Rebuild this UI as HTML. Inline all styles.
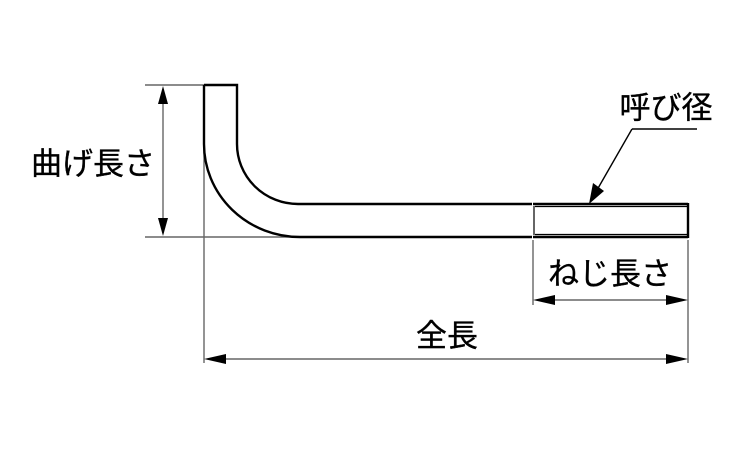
<!DOCTYPE html>
<html><head><meta charset="utf-8"><style>
html,body{margin:0;padding:0;background:#fff;}
svg{display:block;}
text{font-family:"Liberation Sans","Noto Sans CJK JP",sans-serif;font-size:31px;fill:#000;stroke:#000;stroke-width:0.35px;}
</style></head><body>
<svg width="750" height="450" viewBox="0 0 750 450" xmlns="http://www.w3.org/2000/svg">
<rect width="750" height="450" fill="#fff"/>
<g stroke="#666" stroke-width="1.4" fill="none">
  <line x1="145" y1="85" x2="205" y2="85"/>
  <line x1="145" y1="237" x2="300" y2="237"/>
  <line x1="163" y1="95" x2="163" y2="227"/>
  <line x1="204" y1="85" x2="204" y2="363"/>
  <line x1="688" y1="240" x2="688" y2="363"/>
  <line x1="533" y1="240" x2="533" y2="305"/>
  <line x1="215" y1="359" x2="676" y2="359"/>
  <line x1="545" y1="300" x2="676" y2="300"/>
</g>
<g fill="#000">
  <polygon points="163,86 158,104 168,104"/>
  <polygon points="163,236 158,218 168,218"/>
  <polygon points="204,359 226,354 226,364"/>
  <polygon points="688,359 666,354 666,364"/>
  <polygon points="533,300 555,295 555,305"/>
  <polygon points="688,300 666,295 666,305"/>
  <polygon points="589,204 593,183 604,191"/>
</g>
<g stroke="#000" stroke-width="1.4" fill="none">
  <line x1="632" y1="129" x2="697" y2="129"/>
  <line x1="632" y1="129" x2="597" y2="190"/>
</g>
<g stroke="#000" stroke-width="2.4" fill="none" stroke-linejoin="miter">
  <path d="M204,85 L237,85 L237,144 A61,60 0 0 0 298,204 L532,204"/>
  <path d="M204,85 L204,144 A96,93 0 0 0 300,237 L532,237"/>
  <line x1="533" y1="204" x2="688" y2="204"/>
  <line x1="533" y1="237" x2="688" y2="237"/>
  <line x1="688" y1="203" x2="688" y2="238"/>
</g>
<g stroke="#000" stroke-width="1.2" fill="none">
  <line x1="535" y1="206.5" x2="687" y2="206.5"/>
  <line x1="535" y1="234.5" x2="687" y2="234.5"/>
  <line x1="534" y1="206" x2="534" y2="235"/>
</g>
<text x="93" y="164" text-anchor="middle" dominant-baseline="central">曲げ長さ</text>
<text x="666" y="108" text-anchor="middle" dominant-baseline="central">呼び径</text>
<text x="610" y="274" text-anchor="middle" dominant-baseline="central">ねじ長さ</text>
<text x="447" y="336" text-anchor="middle" dominant-baseline="central">全長</text>
</svg>
</body></html>
